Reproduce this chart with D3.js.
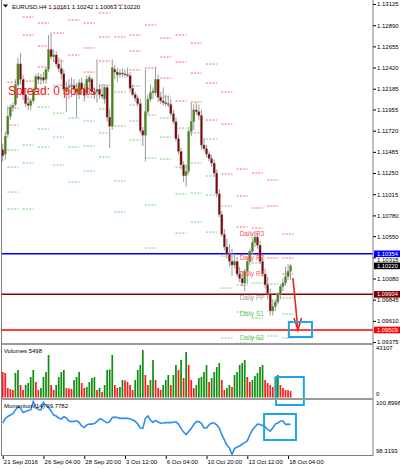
<!DOCTYPE html>
<html>
<head>
<meta charset="utf-8">
<script src="https://cdn.jsdelivr.net/npm/d3@7"></script>
<style>
  html, body { margin: 0; padding: 0; background: #fff; }
  svg { display: block; font-family: "Liberation Sans", Arial, sans-serif; }
</style>
</head>
<body>
<svg id="chart" width="400" height="469"></svg>
<script>
// EURUSD H4, bar 0 = 21 Sep 2016 12:00, last bar = 18 Oct 08:00
const opens = [1.1151,1.1146,1.1168,1.1188,1.1198,1.1201,1.1223,1.1246,1.1229,1.1212,1.1202,1.1200,1.1205,1.1218,1.1232,1.1229,1.1231,1.1229,1.1240,1.1262,1.1254,1.1256,1.1246,1.1241,1.1235,1.1215,1.1220,1.1221,1.1222,1.1218,1.1212,1.1225,1.1218,1.1214,1.1226,1.1229,1.1215,1.1215,1.1218,1.1212,1.1207,1.1220,1.1187,1.1177,1.1240,1.1237,1.1234,1.1236,1.1235,1.1234,1.1233,1.1219,1.1212,1.1208,1.1202,1.1172,1.1167,1.1193,1.1207,1.1214,1.1214,1.1229,1.1209,1.1205,1.1203,1.1202,1.1201,1.1191,1.1182,1.1163,1.1149,1.1134,1.1122,1.1127,1.1171,1.1182,1.1195,1.1193,1.1189,1.1156,1.1152,1.1146,1.1141,1.1136,1.1125,1.1102,1.1079,1.1057,1.1043,1.1035,1.1027,1.1023,1.1027,1.1013,1.1008,1.1003,1.1016,1.1027,1.1038,1.1048,1.1054,1.1045,1.1027,1.1013,1.1001,1.0991,1.0972,1.0977,1.0982,1.0990,1.0999,1.1003,1.1010,1.10161];
const highs = [1.1157,1.1171,1.1199,1.1201,1.1203,1.1229,1.1253,1.1258,1.1234,1.1218,1.1210,1.1207,1.1220,1.1235,1.1236,1.1235,1.1237,1.1242,1.1278,1.1281,1.1262,1.1260,1.1253,1.1251,1.1240,1.1226,1.1229,1.1231,1.1229,1.1225,1.1229,1.1231,1.1224,1.1233,1.1234,1.1231,1.1220,1.1251,1.1223,1.1223,1.1223,1.1223,1.1195,1.1251,1.1245,1.1242,1.1240,1.1241,1.1240,1.1242,1.1237,1.1223,1.1215,1.1211,1.1207,1.1176,1.1240,1.1212,1.1223,1.1220,1.1243,1.1234,1.1215,1.1220,1.1212,1.1211,1.1207,1.1195,1.1187,1.1168,1.1153,1.1138,1.1135,1.1176,1.1203,1.1201,1.1203,1.1201,1.1195,1.1164,1.1156,1.1149,1.1145,1.1140,1.1129,1.1107,1.1083,1.1063,1.1052,1.1046,1.1041,1.1035,1.1032,1.1021,1.1016,1.1019,1.1032,1.1041,1.1052,1.1061,1.1058,1.1050,1.1032,1.1019,1.1010,1.0997,1.0985,1.0985,1.0993,1.1002,1.1008,1.1021,1.1024,1.10242];
const lows = [1.1138,1.1140,1.1164,1.1184,1.1193,1.1199,1.1220,1.1223,1.1207,1.1198,1.1195,1.1195,1.1202,1.1215,1.1224,1.1223,1.1224,1.1224,1.1237,1.1251,1.1248,1.1243,1.1237,1.1229,1.1212,1.1193,1.1207,1.1209,1.1212,1.1187,1.1207,1.1212,1.1204,1.1211,1.1212,1.1212,1.1207,1.1203,1.1207,1.1207,1.1202,1.1182,1.1153,1.1173,1.1229,1.1226,1.1231,1.1231,1.1231,1.1231,1.1215,1.1210,1.1204,1.1199,1.1169,1.1155,1.1138,1.1190,1.1204,1.1207,1.1211,1.1204,1.1202,1.1200,1.1199,1.1198,1.1188,1.1179,1.1160,1.1146,1.1129,1.1115,1.1110,1.1124,1.1166,1.1173,1.1190,1.1184,1.1151,1.1149,1.1142,1.1138,1.1132,1.1121,1.1098,1.1076,1.1054,1.1039,1.1030,1.1021,1.1011,1.1019,1.1010,1.1004,1.0999,1.0994,1.1002,1.1023,1.1035,1.1043,1.1041,1.1024,1.1010,1.0997,1.0985,1.0967,1.0967,1.0972,1.0979,1.0985,1.0994,1.1000,1.1006,1.10063];
const closes = [1.1144,1.1166,1.1188,1.1198,1.1200,1.1223,1.1246,1.1229,1.1212,1.1202,1.1200,1.1205,1.1218,1.1232,1.1229,1.1231,1.1228,1.1240,1.1262,1.1254,1.1256,1.1246,1.1241,1.1235,1.1218,1.1220,1.1221,1.1222,1.1218,1.1215,1.1225,1.1218,1.1211,1.1229,1.1231,1.1215,1.1212,1.1218,1.1212,1.1210,1.1220,1.1187,1.1177,1.1242,1.1237,1.1234,1.1236,1.1235,1.1234,1.1233,1.1219,1.1212,1.1208,1.1202,1.1172,1.1167,1.1193,1.1207,1.1214,1.1216,1.1229,1.1209,1.1205,1.1203,1.1202,1.1201,1.1191,1.1182,1.1163,1.1149,1.1134,1.1122,1.1127,1.1171,1.1182,1.1195,1.1193,1.1189,1.1156,1.1152,1.1146,1.1141,1.1136,1.1125,1.1102,1.1079,1.1057,1.1043,1.1035,1.1027,1.1023,1.1027,1.1013,1.1008,1.1003,1.1016,1.1027,1.1038,1.1048,1.1054,1.1045,1.1027,1.1013,1.1001,1.0991,1.0972,1.0977,1.0982,1.0990,1.0999,1.1003,1.1010,1.1016,1.10220];
const volumes = [21340,20510,7950,7110,6280,20510,23020,10460,6280,10460,12140,17160,23020,12970,6280,7950,17160,21340,35570,10460,6280,10460,17160,21340,23020,7950,7600,7110,14650,17160,21340,12140,7950,8790,12970,16320,17160,6280,7950,4600,10460,23020,23500,35570,10460,7950,8790,14650,14200,12970,10460,6280,14650,23020,27200,39760,18830,10460,14650,31390,14650,7950,6280,10460,14650,18830,10460,18830,27200,23020,31390,16320,38080,27200,14650,7950,10460,16320,17160,21340,27200,12970,16320,21340,25530,28880,14650,6280,7950,10460,8790,18830,21340,27200,28880,31390,17160,12970,14650,18000,20510,25530,27200,14650,12140,10460,8790,17160,18830,10460,7950,6280,6100,5498];
const momentum = [99.85,100.07,100.17,100.24,100.31,100.49,100.63,100.58,100.36,100.41,100.46,100.49,100.90,100.63,100.51,100.49,100.85,100.70,100.61,100.44,100.24,100.19,100.10,100.05,100.16,100.10,99.95,99.92,99.93,99.96,99.88,99.71,99.63,99.76,99.80,99.80,99.83,99.92,100.05,100.02,99.93,99.86,99.92,100.12,100.14,100.12,100.08,100.08,100.08,100.08,100.06,100.00,99.94,99.80,99.61,99.59,100.08,100.19,100.00,99.88,99.98,99.90,99.84,99.85,99.87,99.87,99.87,99.89,99.91,99.80,99.59,99.41,99.29,99.44,99.59,99.78,99.92,99.92,99.84,99.61,99.61,99.76,99.85,99.85,99.76,99.61,99.27,99.03,98.78,98.64,98.32,98.61,98.68,98.73,98.83,98.90,98.98,99.27,99.51,99.66,99.80,99.78,99.73,99.66,99.54,99.46,99.61,99.80,99.85,99.95,99.95,99.78,99.80,99.7782];

// daily pivot levels, one entry per day (first bar of the day)
const pivotStart = [3,9,15,21,27,33,39,45,51,57,63,69,75,81,87,93,99,105,111];
const pivotR3 = [1.12259,1.12980,1.12914,1.13069,1.13280,1.12914,1.13025,1.13724,1.12781,1.13413,1.12747,1.12781,1.12692,1.12459,1.12148,1.11294,1.11250,1.11172,1.10573];
const pivotR2 = [1.11971,1.12781,1.12659,1.12803,1.12947,1.12637,1.12759,1.13114,1.12603,1.12892,1.12537,1.12481,1.12359,1.12248,1.11793,1.10995,1.10862,1.10884,1.10307];
const pivotR1 = [1.11782,1.12270,1.12426,1.12492,1.12559,1.12370,1.12492,1.12759,1.12393,1.12415,1.12304,1.12049,1.12038,1.11838,1.11239,1.10651,1.10640,1.10307,1.10130];
const pivotPP = [1.11505,1.12071,1.12182,1.12226,1.12226,1.12093,1.12226,1.12148,1.12215,1.11893,1.12093,1.11749,1.11694,1.11627,1.10884,1.10351,1.10252,1.10019,1.09863];
const pivotS1 = [1.11316,1.11561,1.11982,1.11915,1.11860,1.11827,1.11960,1.11771,1.12004,1.11416,1.11860,1.11316,1.11361,1.11217,1.10329,1.10007,1.10030,1.09442,1.09686];
const pivotS2 = [1.11039,1.11361,1.11738,1.11649,1.11538,1.11549,1.11694,1.11161,1.11827,1.10895,1.11649,1.11017,1.11028,1.11006,1.09974,1.09708,1.09641,1.09153,1.09420];
const pivotS3 = [1.10851,1.10851,1.11538,1.11339,1.11150,1.11272,1.11427,1.10818,1.11616,1.10418,1.11405,1.10584,1.10706,1.10595,1.09420,1.09364,1.09420,1.08576,1.09242];
const pivotNames = ["Daily R3","Daily R2","Daily R1","Daily PP","Daily S1","Daily S2"];
const pivotLabelBar = 93;

const priceTicks = [1.13125,1.12890,1.12655,1.12420,1.12185,1.11955,1.11720,1.11485,1.11250,1.11015,1.10780,1.10550,1.10315,1.10080,1.09845,1.09610,1.09375];
const timeTickBars = [0,16,32,48,64,80,96,112];
const timeTickText = ["21 Sep 2016","26 Sep 04:00","28 Sep 20:00","3 Oct 12:00","6 Oct 04:00","10 Oct 20:00","13 Oct 12:00","18 Oct 04:00"];

const levelPrices = [1.10354, 1.09904, 1.09509];
const levelColors = ["#0000ff", "#8b0000", "#ff0000"];

const svg = d3.select("#chart");
const W = 400, plotRight = 373;

const x = d3.scaleLinear().domain([0, 113]).range([2.7, 290.6]);
const yP = d3.scaleLinear().domain([1.13125, 1.09375]).range([4, 342.06]);
const yV = d3.scaleLinear().domain([0, 43107]).range([397.5, 346]);
const yM = d3.scaleLinear().domain([98.3193, 100.8998]).range([454.5, 401.5]);

// clip regions for the three panes
let defs = svg.append("defs");
[["clipMain", 0, 343], ["clipVol", 345, 398], ["clipMom", 400, 455]].forEach(([id, y0, y1]) => {
  defs.append("clipPath").attr("id", id)
    .append("rect").attr("x", 2).attr("y", y0).attr("width", plotRight - 2).attr("height", y1 - y0);
});

let main = svg.append("g").attr("clip-path", "url(#clipMain)");

// pivot dashes
const pivotSets = [
  [pivotR3, "#ff6464"], [pivotR2, "#ff6464"], [pivotR1, "#ff6464"],
  [pivotPP, "#a3a3a3"],
  [pivotS1, "#6fd06f"], [pivotS2, "#6fd06f"], [pivotS3, "#6fd06f"]
];
pivotSets.forEach(([levels, color]) => {
  main.append("g").selectAll("line")
    .data(levels)
    .join("line")
    .attr("x1", (d, i) => x(pivotStart[i]) - 3)
    .attr("x2", (d, i) => x(pivotStart[i]) + 8)
    .attr("y1", d => yP(d)).attr("y2", d => yP(d))
    .attr("stroke", color)
    .attr("stroke-width", 1)
    .attr("stroke-dasharray", "2,1.3");
});

// horizontal levels
levelPrices.forEach((p, i) => {
  main.append("line")
    .attr("x1", 2).attr("x2", plotRight)
    .attr("y1", yP(p)).attr("y2", yP(p))
    .attr("stroke", levelColors[i]).attr("stroke-width", 1.5);
});

// candles
let candles = main.append("g").selectAll("g")
  .data(d3.range(opens.length))
  .join("g");
candles.append("line")
  .attr("x1", i => x(i)).attr("x2", i => x(i))
  .attr("y1", i => yP(highs[i])).attr("y2", i => yP(lows[i]))
  .attr("stroke", "#999").attr("stroke-width", 1);
candles.append("rect")
  .attr("x", i => x(i) - 1.1)
  .attr("width", 2.2)
  .attr("y", i => yP(Math.max(opens[i], closes[i])))
  .attr("height", i => Math.max(1, Math.abs(yP(opens[i]) - yP(closes[i]))))
  .attr("fill", i => closes[i] >= opens[i] ? "#3f8a06" : "#850000")
  .attr("stroke", "#8f8f8f").attr("stroke-width", 0.4);

// pivot labels for the current day
const lastPivot = pivotStart.length - 1;
const labelLevels = [pivotR3, pivotR2, pivotR1, pivotPP, pivotS1, pivotS2].map(a => a[lastPivot]);
const labelColors = ["#ff5050", "#ff5050", "#ff5050", "#9a9a9a", "#5cc85c", "#5cc85c"];
labelLevels.forEach((p, i) => {
  main.append("text")
    .attr("x", x(pivotLabelBar))
    .attr("y", yP(p) + 2.3)
    .attr("font-size", 6.5)
    .attr("fill", labelColors[i])
    .text(pivotNames[i]);
});

// annotation: arrow and box on the price pane
let arrowFrom = [113.9, 1.10085], arrowTo = [115.9, 1.09509];
svg.append("line")
  .attr("x1", x(arrowFrom[0])).attr("y1", yP(arrowFrom[1]))
  .attr("x2", x(arrowTo[0])).attr("y2", yP(arrowTo[1]))
  .attr("stroke", "#e8281e").attr("stroke-width", 1.6);
svg.append("path")
  .attr("d", `M${x(arrowTo[0]) - 4},${yP(arrowTo[1]) - 12} L${x(arrowTo[0])},${yP(arrowTo[1])} L${x(arrowTo[0]) + 3.5},${yP(arrowTo[1]) - 12}`)
  .attr("fill", "none").attr("stroke", "#e8281e").attr("stroke-width", 1.6);

// Spread text
svg.append("text")
  .attr("x", 8).attr("y", 95.3)
  .attr("font-size", 12)
  .attr("fill", "#ff1010")
  .text("Spread: 0 points");

// title
svg.append("path").attr("d", "M3,4.5 L8,4.5 L5.5,7.5 Z").attr("fill", "#000");
svg.append("text")
  .attr("x", 12).attr("y", 9.3)
  .attr("font-size", 6)
  .attr("fill", "#000")
  .text("EURUSD,H4  1.10161 1.10242 1.10063 1.10220");

// volumes
let vol = svg.append("g").attr("clip-path", "url(#clipVol)");
vol.selectAll("rect")
  .data(volumes)
  .join("rect")
  .attr("x", (d, i) => x(i) - 0.85)
  .attr("width", 1.7)
  .attr("y", d => yV(d))
  .attr("height", d => yV(0) - yV(d))
  .attr("fill", (d, i) => i > 0 && d > volumes[i - 1] ? "#0f8f0f" : "#ff1a1a");

svg.append("text").attr("x", 4).attr("y", 353).attr("font-size", 6).text("Volumes " + volumes[volumes.length - 1]);

// momentum
let mom = svg.append("g").attr("clip-path", "url(#clipMom)");
mom.append("path")
  .datum(momentum)
  .attr("d", d3.line().x((d, i) => x(i)).y(d => yM(d)))
  .attr("fill", "none")
  .attr("stroke", "#2e8ef0")
  .attr("stroke-width", 1.6);

svg.append("text").attr("x", 4).attr("y", 407.5).attr("font-size", 6)
  .text("Momentum(14) " + momentum[momentum.length - 1]);

// highlight boxes
const boxBars = [[112.3, 121.4], [107.3, 118.2], [102.6, 115.1]];
const boxTop = [yP(1.09597), yV(17160), yM(100.291)];
const boxBottom = [yP(1.09431), yV(-6280), yM(99.025)];
boxBars.forEach((b, i) => {
  svg.append("rect")
    .attr("x", x(b[0])).attr("width", x(b[1]) - x(b[0]))
    .attr("y", boxTop[i]).attr("height", boxBottom[i] - boxTop[i])
    .attr("fill", "none").attr("stroke", "#1ea5e3").attr("stroke-width", 2);
});

// frame and separators
svg.append("line").attr("x1", 1.5).attr("x2", 1.5).attr("y1", 0).attr("y2", 456).attr("stroke", "#808080");
svg.append("line").attr("x1", plotRight).attr("x2", plotRight).attr("y1", 0).attr("y2", 456).attr("stroke", "#808080");
[344, 399].forEach(yy => {
  svg.append("line").attr("x1", 1.5).attr("x2", plotRight).attr("y1", yy).attr("y2", yy)
    .attr("stroke", "#9a9a9a").attr("stroke-width", 2);
});
svg.append("line").attr("x1", 1.5).attr("x2", plotRight).attr("y1", 455.5).attr("y2", 455.5).attr("stroke", "#808080");

// price axis
let priceAxis = svg.append("g")
  .attr("transform", `translate(${plotRight},0)`)
  .call(d3.axisRight(yP).tickValues(priceTicks).tickSize(3).tickPadding(1).tickFormat(d3.format(".5f")));
priceAxis.select(".domain").remove();
priceAxis.selectAll("text").attr("font-size", 6).attr("font-family", "Liberation Sans, Arial, sans-serif");
// the tick under the blue price box peeks out below it, as in the terminal
priceAxis.selectAll("text").filter(d => d === 1.10315).attr("dy", "0.62em");

// coloured price boxes
const boxPrices = [1.10354, 1.10220, 1.09904, 1.09509];
const boxColors = ["#0000ff", "#000000", "#800000", "#ff0000"];
boxPrices.forEach((p, i) => {
  svg.append("rect").attr("x", plotRight + 1).attr("y", yP(p) - 3.3).attr("width", W - plotRight - 1).attr("height", 6.6)
    .attr("fill", boxColors[i]);
  svg.append("text").attr("x", plotRight + 4).attr("y", yP(p) + 2.1).attr("font-size", 5.8).attr("fill", "#fff")
    .text(d3.format(".5f")(p));
});

// volume and momentum scale labels
let volAxis = svg.append("g").attr("transform", `translate(${plotRight},0)`)
  .call(d3.axisRight(yV).tickValues([43107, 0]).tickSize(0).tickPadding(3).tickFormat(d3.format("d")));
volAxis.select(".domain").remove();
volAxis.selectAll("text").attr("font-size", 6).attr("font-family", "Liberation Sans, Arial, sans-serif")
  .attr("dy", d => d === 0 ? "-0.3em" : "0.6em");

let momAxis = svg.append("g").attr("transform", `translate(${plotRight},0)`)
  .call(d3.axisRight(yM).tickValues([100.8998, 98.3193]).tickSize(0).tickPadding(3).tickFormat(d3.format(".4f")));
momAxis.select(".domain").remove();
momAxis.selectAll("text").attr("font-size", 6).attr("font-family", "Liberation Sans, Arial, sans-serif")
  .attr("dy", d => d < 99 ? "-0.4em" : "0.55em");

// time axis
let timeAxis = svg.append("g").attr("transform", "translate(0,456)")
  .call(d3.axisBottom(x).tickValues(timeTickBars).tickSize(3).tickPadding(1)
    .tickFormat((d, i) => timeTickText[i]));
timeAxis.select(".domain").remove();
timeAxis.selectAll("text").attr("font-size", 6).attr("font-family", "Liberation Sans, Arial, sans-serif")
  .attr("text-anchor", "start").attr("dx", "0.1em");
</script>
</body>
</html>
